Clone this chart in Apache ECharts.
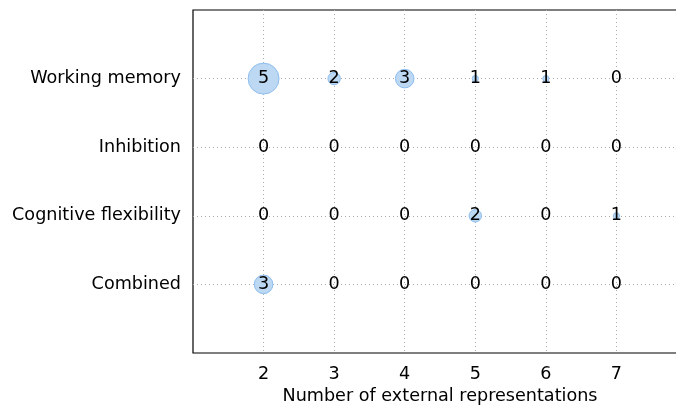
<!DOCTYPE html>
<html>
<head>
<meta charset="utf-8">
<script src="https://cdn.jsdelivr.net/npm/echarts@6/dist/echarts.min.js"></script>
<style>
  html, body { margin: 0; padding: 0; background: #fff; }
  #chart { width: 676px; height: 406px; }
</style>
</head>
<body>
<div id="chart"></div>
<script>
// Executive-function categories, bottom to top on the y axis
const functions = ['Combined', 'Cognitive flexibility', 'Inhibition', 'Working memory'];
// Number of external representations on the x axis
const representations = [2, 3, 4, 5, 6, 7];
// Study counts per category (rows follow `functions`, columns follow `representations`)
const countsCombined = [3, 0, 0, 0, 0, 0];
const countsFlexibility = [0, 0, 0, 2, 0, 1];
const countsInhibition = [0, 0, 0, 0, 0, 0];
const countsWorkingMemory = [5, 2, 3, 1, 1, 0];

const rows = [countsCombined, countsFlexibility, countsInhibition, countsWorkingMemory];
const points = [];
rows.forEach((row, yi) => {
  row.forEach((v, xi) => points.push([representations[xi], yi, v]));
});

const font = 'DejaVu Sans';
const fs = 17.6;
const gridLine = {
  show: true, showMinLine: false, showMaxLine: false,
  lineStyle: { color: '#aaa', type: [1, 3], width: 1 }
};
const chart = echarts.init(document.getElementById('chart'));
chart.setOption({
  animation: false,
  grid: {
    left: 193, right: -11, top: 10, bottom: 53,
    outerBoundsMode: 'none', containLabel: false,
    show: true, borderColor: '#000', borderWidth: 1.2, backgroundColor: 'transparent'
  },
  xAxis: {
    type: 'value', min: 1, max: 8, interval: 1,
    name: 'Number of external representations', nameLocation: 'middle', nameGap: 33,
    nameTextStyle: { fontFamily: font, fontSize: fs, color: '#000' },
    axisLine: { show: false }, axisTick: { show: false },
    axisLabel: {
      fontFamily: font, fontSize: fs, color: '#000', margin: 12,
      showMinLabel: false, showMaxLabel: false,
      formatter: v => (v >= 2 && v <= 7 ? String(v) : '')
    },
    splitLine: gridLine
  },
  yAxis: {
    type: 'value', min: -1, max: 4, interval: 1,
    axisLine: { show: false }, axisTick: { show: false },
    axisLabel: {
      fontFamily: font, fontSize: fs, color: '#000', margin: 12,
      formatter: v => (v >= 0 && v < functions.length ? functions[v] : '')
    },
    splitLine: gridLine
  },
  series: [{
    type: 'scatter',
    data: points,
    symbolSize: d => d[2] * 6.2,
    itemStyle: { color: '#bcd8f2', borderColor: '#8dbdee', borderWidth: 1, opacity: 1 },
    label: {
      show: true, position: 'inside',
      formatter: p => String(p.value[2]),
      fontFamily: font, fontSize: fs, color: '#000'
    },
    z: 1
  }]
});
</script>
</body>
</html>
